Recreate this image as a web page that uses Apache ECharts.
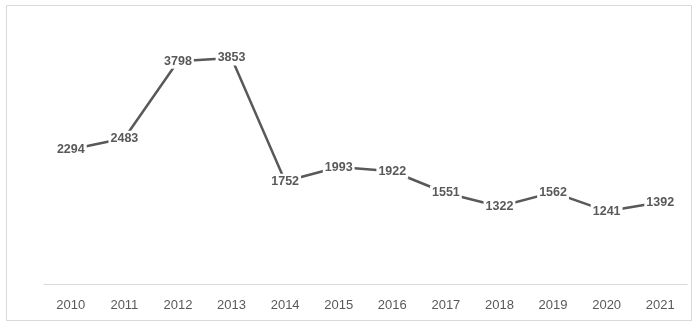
<!DOCTYPE html>
<html>
<head>
<meta charset="utf-8">
<script src="https://cdn.jsdelivr.net/npm/echarts@6/dist/echarts.min.js"></script>
<style>html,body{margin:0;padding:0;background:#fff;}#c{width:700px;height:328px;}</style>
</head>
<body>
<div id="c"></div>
<script>
const years = ['2010','2011','2012','2013','2014','2015','2016','2017','2018','2019','2020','2021'];
const values = [2294, 2483, 3798, 3853, 1752, 1993, 1922, 1551, 1322, 1562, 1241, 1392];

const chart = echarts.init(document.getElementById('c'));
chart.setOption({
  animation: false,
  backgroundColor: '#fff',
  grid: { left: 44, right: 13, top: 20, bottom: 44 },
  graphic: [{
    type: 'rect', shape: { x: 6.5, y: 5.5, width: 685, height: 315 },
    style: { fill: 'none', stroke: '#d9d9d9', lineWidth: 1 }, silent: true
  }],
  xAxis: {
    type: 'category', data: years, boundaryGap: true,
    axisLine: { lineStyle: { color: '#d9d9d9', width: 1 } },
    axisTick: { show: false },
    axisLabel: { color: '#595959', fontSize: 13, fontFamily: 'Liberation Sans', margin: 15 }
  },
  yAxis: {
    type: 'value', min: 0, max: 4500,
    show: false, splitLine: { show: false }
  },
  series: [{
    type: 'line', data: values,
    symbol: 'circle', symbolSize: 0,
    lineStyle: { color: '#595959', width: 2.5 },
    itemStyle: { color: '#595959' },
    label: {
      show: true, position: 'inside',
      color: '#595959', fontSize: 12.5, fontWeight: 'bold', fontFamily: 'Liberation Sans',
      backgroundColor: '#fff', padding: [1, 2]
    }
  }]
});
</script>
</body>
</html>
